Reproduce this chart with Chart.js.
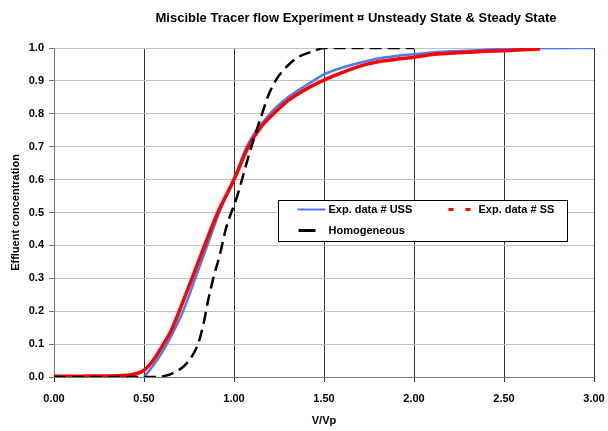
<!DOCTYPE html>
<html>
<head>
<meta charset="utf-8">
<script src="https://cdn.jsdelivr.net/npm/chart.js@4"></script>
<style>
  body { margin: 0; background: #fff; }
</style>
</head>
<body>
<canvas id="tracerChart" width="608" height="431"></canvas>
<script>
// data (V/Vp vs effluent concentration)
const chartTitle = 'Miscible Tracer flow Experiment \u00a4 Unsteady State & Steady State';

const ussX = [0.5, 0.53, 0.571, 0.627, 0.717, 0.785, 0.852, 0.918, 1.0, 1.07, 1.2, 1.3, 1.44, 1.5, 1.6, 1.7, 1.8, 1.9, 2.0, 2.1, 2.2, 2.3, 2.45, 2.6, 3.0];
const ussY = [0.0, 0.02, 0.05, 0.1, 0.2, 0.3, 0.4, 0.5, 0.6, 0.7, 0.8, 0.85, 0.9, 0.92, 0.94, 0.955, 0.968, 0.976, 0.981, 0.986, 0.99, 0.992, 0.996, 0.999, 1.0];

const ssX = [0, 0.1, 0.2, 0.3, 0.4, 0.45, 0.5, 0.55, 0.608, 0.65, 0.696, 0.767, 0.837, 0.91, 1.0, 1.08, 1.15, 1.22, 1.3, 1.4, 1.49, 1.6, 1.7, 1.8, 1.9, 2.0, 2.1, 2.2, 2.3, 2.4, 2.5, 2.6, 2.7];
const ssY = [0.002, 0.002, 0.003, 0.003, 0.005, 0.009, 0.02, 0.05, 0.1, 0.14, 0.2, 0.3, 0.4, 0.5, 0.6, 0.7, 0.76, 0.8, 0.84, 0.875, 0.9, 0.925, 0.945, 0.958, 0.966, 0.972, 0.98, 0.984, 0.987, 0.99, 0.992, 0.995, 0.997];

const homX = [0, 0.5, 0.56, 0.62, 0.664, 0.72, 0.765, 0.8, 0.83, 0.857, 0.885, 0.923, 0.95, 0.978, 1.006, 1.034, 1.07, 1.11, 1.15, 1.19, 1.23, 1.27, 1.35, 1.44, 1.5, 2.0];
const homY = [0, 0, 0, 0.004, 0.013, 0.032, 0.062, 0.1, 0.16, 0.235, 0.3, 0.375, 0.44, 0.49, 0.53, 0.58, 0.65, 0.724, 0.79, 0.855, 0.9, 0.93, 0.97, 0.99, 1.0, 1.0];

const seriesLabels = ['Exp. data # USS', 'Exp. data # SS', 'Homogeneous'];

function toPoints(xs, ys) {
    return xs.map((x, i) => ({ x: x, y: ys[i] }));
}

const fontFamily = '"Liberation Sans", Arial, sans-serif';

// chart title, drawn squeezed like the original
const titlePlugin = {
    id: 'squeezedTitle',
    afterDraw(chart) {
        const ctx = chart.ctx;
        ctx.save();
        ctx.font = 'bold 13px ' + fontFamily;
        ctx.fillStyle = '#000';
        ctx.textAlign = 'center';
        ctx.textBaseline = 'middle';
        ctx.fillText(chartTitle, 356, 18, 445);
        ctx.restore();
    }
};

// boxed legend inside the plot area
const legendPlugin = {
    id: 'boxLegend',
    afterDraw(chart) {
        const ctx = chart.ctx;
        const a = chart.chartArea;
        const x0 = Math.round(a.left + a.width * 0.415) + 0.5;
        const x1 = Math.round(a.left + a.width * 0.95) + 0.5;
        const y0 = Math.round(a.top + a.height * 0.462) + 0.5;
        const y1 = Math.round(a.top + a.height * 0.587) + 0.5;
        ctx.save();
        ctx.fillStyle = '#fff';
        ctx.fillRect(x0, y0, x1 - x0, y1 - y0);
        ctx.strokeStyle = '#000';
        ctx.lineWidth = 1;
        ctx.strokeRect(x0, y0, x1 - x0, y1 - y0);

        const items = [
            { ds: 0, sx: 19, len: 28, tx: 50, row: 0, width: 2, dash: [] },
            { ds: 1, sx: 170, len: 22, tx: 200, row: 0, width: 3, dash: [5, 12] },
            { ds: 2, sx: 20, len: 17, tx: 50, row: 1, width: 3, dash: [] }
        ];
        ctx.font = 'bold 11px ' + fontFamily;
        ctx.textBaseline = 'middle';
        items.forEach(it => {
            const ds = chart.data.datasets[it.ds];
            const y = y0 + 9 + it.row * 21;
            ctx.beginPath();
            ctx.setLineDash(it.dash);
            ctx.strokeStyle = ds.borderColor;
            ctx.lineWidth = it.width;
            ctx.moveTo(x0 + it.sx, y);
            ctx.lineTo(x0 + it.sx + it.len, y);
            ctx.stroke();
            ctx.setLineDash([]);
            ctx.fillStyle = '#000';
            ctx.fillText(ds.label, x0 + it.tx, y);
        });
        ctx.restore();
    }
};

const ctx = document.getElementById('tracerChart').getContext('2d');
new Chart(ctx, {
    type: 'line',
    data: {
        datasets: [
            {
                label: seriesLabels[0],
                data: toPoints(ussX, ussY),
                borderColor: '#4a7bf7',
                borderWidth: 2.5,
                pointRadius: 0,
                cubicInterpolationMode: 'monotone',
                order: 2
            },
            {
                label: seriesLabels[1],
                data: toPoints(ssX, ssY),
                borderColor: '#ff0000',
                borderWidth: 3.5,
                pointRadius: 0,
                cubicInterpolationMode: 'monotone',
                order: 1
            },
            {
                label: seriesLabels[2],
                data: toPoints(homX, homY),
                borderColor: '#000000',
                borderWidth: 2.5,
                borderDash: [12, 6],
                pointRadius: 0,
                cubicInterpolationMode: 'monotone',
                order: 0
            }
        ]
    },
    options: {
        responsive: false,
        animation: false,
        layout: {
            padding: { top: 48, right: 14, bottom: 0, left: 0 }
        },
        plugins: {
            legend: { display: false },
            title: { display: false },
            tooltip: { enabled: false }
        },
        scales: {
            x: {
                type: 'linear',
                min: 0,
                max: 3,
                afterFit: scale => {
                    scale.height = 54;
                    scale.paddingLeft = 0;
                    scale.paddingRight = 0;
                },
                ticks: {
                    stepSize: 0.5,
                    padding: 10,
                    color: '#000',
                    font: { family: fontFamily, size: 11, weight: 'bold' },
                    callback: v => v.toFixed(2)
                },
                grid: { color: '#333', lineWidth: 1, tickLength: 5 },
                border: { color: '#777' },
                title: {
                    display: true,
                    text: 'V/Vp',
                    color: '#000',
                    font: { family: fontFamily, size: 11, weight: 'bold' },
                    padding: { top: 0, bottom: 3 }
                }
            },
            y: {
                min: 0,
                max: 1,
                afterFit: scale => {
                    scale.width = 54;
                    scale.paddingTop = 0;
                    scale.paddingBottom = 0;
                },
                ticks: {
                    stepSize: 0.1,
                    padding: 5,
                    color: '#000',
                    font: { family: fontFamily, size: 11, weight: 'bold' },
                    callback: v => v.toFixed(1)
                },
                grid: {
                    color: '#c0c0c0',
                    tickColor: '#777',
                    lineWidth: 1,
                    tickLength: 5
                },
                border: { color: '#777' },
                title: {
                    display: true,
                    text: 'Effluent concentration',
                    color: '#000',
                    font: { family: fontFamily, size: 11, weight: 'bold' },
                    padding: { top: 9, bottom: 0 }
                }
            }
        }
    },
    plugins: [titlePlugin, legendPlugin]
});
</script>
</body>
</html>
